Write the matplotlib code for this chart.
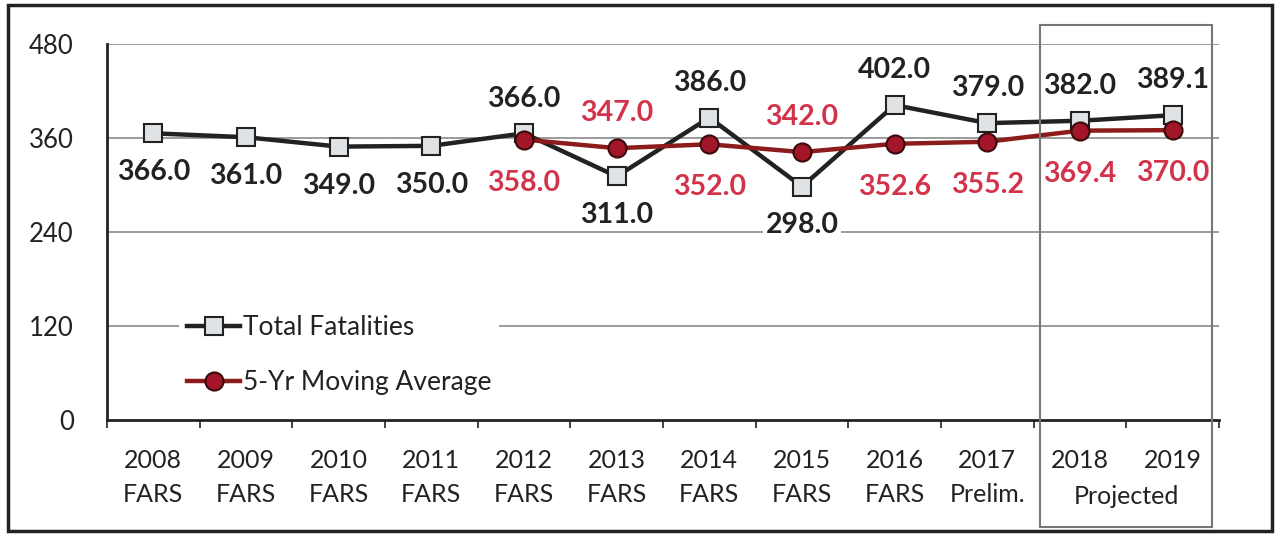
import matplotlib
matplotlib.use("Agg")
import matplotlib.pyplot as plt
from matplotlib.patches import Rectangle
import numpy as np

categories = ["2008\nFARS", "2009\nFARS", "2010\nFARS", "2011\nFARS", "2012\nFARS",
              "2013\nFARS", "2014\nFARS", "2015\nFARS", "2016\nFARS", "2017\nPrelim.",
              "2018", "2019"]
total_fatalities = [366.0, 361.0, 349.0, 350.0, 366.0, 311.0, 386.0, 298.0, 402.0, 379.0, 382.0, 389.1]
moving_average = [np.nan, np.nan, np.nan, np.nan, 358.0, 347.0, 352.0, 342.0, 352.6, 355.2, 369.4, 370.0]
y_ticks = [0, 120, 240, 360, 480]

# label placement (style): +1 above, -1 below
total_side = [-1, -1, -1, -1, 1, -1, 1, -1, 1, 1, 1, 1]
avg_side = [0, 0, 0, 0, -1, 1, -1, 1, -1, -1, -1, -1]

plt.rcParams['font.family'] = ['Lato', 'DejaVu Sans']

fig = plt.figure(figsize=(12.78, 5.39), dpi=100)
W, H = 1278, 539
ax = fig.add_axes([107 / W, 1 - 420 / H, (1219 - 107) / W, (420 - 44) / H])

x = np.arange(len(categories))
BLACK = "#222222"
RED = "#d2334a"

ax.plot(x, total_fatalities, color=BLACK, lw=3.2, marker='s', ms=13,
        mfc="#dfe3e6", mec=BLACK, mew=1.5, zorder=4, label="Total Fatalities")
ax.plot(x, moving_average, color="#8c1c1c", lw=3.2, marker='o', ms=13,
        mfc="#a3162a", mec="#3a0a0a", mew=1.5, zorder=5, label="5-Yr Moving Average")

ax.set_xlim(-0.5, len(categories) - 0.5)
ax.set_ylim(0, 480)
ax.set_yticks(y_ticks)
ax.set_yticklabels([str(v) for v in y_ticks], fontsize=18.5, color=BLACK)
ax.set_xticks(x)
ax.set_xticklabels(categories, fontsize=18, color=BLACK, linespacing=1.55)
ax.tick_params(axis='x', length=0, pad=21)
ax.tick_params(axis='y', length=0, pad=24)
ax.set_xticks(np.arange(-0.5, len(categories), 1), minor=True)
ax.tick_params(axis='x', which='minor', length=6, width=1.2, color=BLACK)

for sp in ['top', 'right']:
    ax.spines[sp].set_visible(False)
ax.spines['left'].set_linewidth(2)
ax.spines['bottom'].set_linewidth(2)
ax.spines['left'].set_color(BLACK)
ax.spines['bottom'].set_color(BLACK)

for v in y_ticks[1:]:
    ax.axhline(v, color="#8a8a8a", lw=1.2, zorder=1)

for xi, v, s in zip(x, total_fatalities, total_side):
    off = 25 if s > 0 else -28
    ax.annotate(f"{v:.1f}", (xi, v), xytext=(0, off), textcoords='offset points',
                ha='center', va='center', fontsize=20.5, fontweight='bold', color=BLACK,
                zorder=6, bbox=dict(boxstyle='square,pad=0.1', fc='white', ec='none'))
for xi, v, s in zip(x, moving_average, avg_side):
    if np.isnan(v):
        continue
    off = 25 if s > 0 else -31
    ax.annotate(f"{v:.1f}", (xi, v), xytext=(0, off), textcoords='offset points',
                ha='center', va='center', fontsize=20.5, fontweight='bold', color=RED,
                zorder=6, bbox=dict(boxstyle='square,pad=0.1', fc='white', ec='none'))

# Projected label spanning 2018-2019 (on the second line of the tick labels)
ax.annotate("Projected", xy=(10.5, 0), xycoords=('data', 'axes fraction'),
            xytext=(0, -(497 - 420) * 0.72), textcoords='offset points',
            ha='center', va='center', fontsize=18, color=BLACK)

leg = ax.legend(loc='lower left', bbox_to_anchor=(0.065, 0.045), frameon=True,
                fontsize=19, handlelength=2.0, handletextpad=0.1, labelspacing=1.15,
                borderpad=0.3, borderaxespad=0)
leg.get_frame().set_edgecolor('none')
leg.get_frame().set_facecolor('white')
leg.get_frame().set_alpha(1)
leg.set_zorder(7)
for t in leg.get_texts():
    t.set_color(BLACK)

# Projected box and outer frame
fig.patches.append(Rectangle((1040 / W, 1 - 527 / H), (1212 - 1040) / W, (527 - 25) / H,
                             transform=fig.transFigure, fill=False, ec="#777777", lw=1.5))
fig.patches.append(Rectangle((8 / W, 1 - 531 / H), (1272 - 8) / W, (531 - 5) / H,
                             transform=fig.transFigure, fill=False, ec=BLACK, lw=2.5))

fig.savefig("out.png", dpi=100)
